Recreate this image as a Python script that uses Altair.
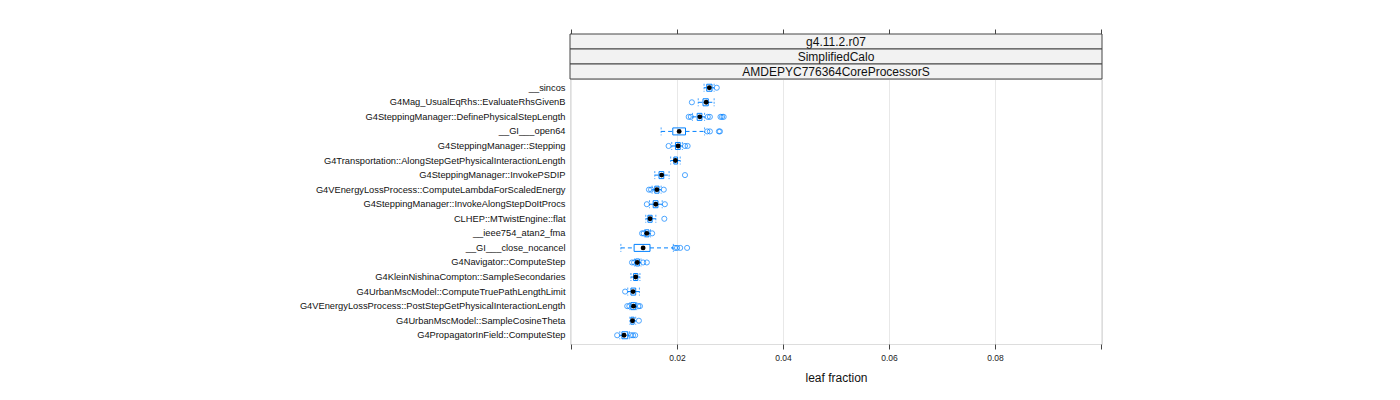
import altair as alt
import pandas as pd

funcs = [
    "__sincos",
    "G4Mag_UsualEqRhs::EvaluateRhsGivenB",
    "G4SteppingManager::DefinePhysicalStepLength",
    "__GI___open64",
    "G4SteppingManager::Stepping",
    "G4Transportation::AlongStepGetPhysicalInteractionLength",
    "G4SteppingManager::InvokePSDIP",
    "G4VEnergyLossProcess::ComputeLambdaForScaledEnergy",
    "G4SteppingManager::InvokeAlongStepDoItProcs",
    "CLHEP::MTwistEngine::flat",
    "__ieee754_atan2_fma",
    "__GI___close_nocancel",
    "G4Navigator::ComputeStep",
    "G4KleinNishinaCompton::SampleSecondaries",
    "G4UrbanMscModel::ComputeTruePathLengthLimit",
    "G4VEnergyLossProcess::PostStepGetPhysicalInteractionLength",
    "G4UrbanMscModel::SampleCosineTheta",
    "G4PropagatorInField::ComputeStep",
]
whisker_low = [0.0251, 0.0240, 0.0229, 0.0170, 0.0190, 0.0188, 0.0158, 0.0153, 0.0148,
               0.0141, 0.0139, 0.0094, 0.0120, 0.0113, 0.0107, 0.0111, 0.0111, 0.0092]
q1 = [0.0256, 0.0249, 0.0238, 0.0192, 0.0197, 0.0194, 0.0166, 0.0158, 0.0155,
      0.0145, 0.0140, 0.0119, 0.0122, 0.0118, 0.0113, 0.0113, 0.0113, 0.0096]
median = [0.0261, 0.0255, 0.0243, 0.0204, 0.0202, 0.0197, 0.0171, 0.0162, 0.0160,
          0.0149, 0.0143, 0.0136, 0.0125, 0.0122, 0.0117, 0.0118, 0.0116, 0.0100]
q3 = [0.0266, 0.0259, 0.0247, 0.0216, 0.0206, 0.0201, 0.0175, 0.0166, 0.0164,
      0.0153, 0.0147, 0.0149, 0.0129, 0.0126, 0.0122, 0.0122, 0.0119, 0.0107]
whisker_high = [0.0270, 0.0270, 0.0252, 0.0252, 0.0210, 0.0206, 0.0185, 0.0170, 0.0172,
                0.0160, 0.0150, 0.0193, 0.0132, 0.0130, 0.0129, 0.0124, 0.0122, 0.0110]
outliers = [
    [0.0275],
    [0.0228],
    [0.0222, 0.0226, 0.0258, 0.0262, 0.0282, 0.0285, 0.0288],
    [0.0257, 0.0262, 0.0279, 0.0281],
    [0.0184, 0.0215, 0.0220],
    [],
    [0.0215],
    [0.0147, 0.0151, 0.0175],
    [0.0143, 0.0177],
    [0.0176],
    [0.0134, 0.0137, 0.0153],
    [0.0196, 0.0200, 0.0206, 0.0219],
    [0.0115, 0.0119, 0.0136, 0.0143],
    [],
    [0.0102],
    [0.0106, 0.0110, 0.0127, 0.0130],
    [0.0128],
    [0.0087, 0.0113, 0.0117, 0.0121],
]
strip_labels = ["g4.11.2.r07", "SimplifiedCalo", "AMDEPYC776364CoreProcessorS"]
tick_values = [0.0, 0.02, 0.04, 0.06, 0.08, 0.1]

stats = pd.DataFrame({"func": funcs, "wlo": whisker_low, "q1": q1, "med": median,
                      "q3": q3, "whi": whisker_high})
out_df = pd.DataFrame([{"func": f, "v": v} for f, vs in zip(funcs, outliers) for v in vs])
ends_df = pd.DataFrame({"func": funcs * 2, "v": whisker_low + whisker_high})

BLUE = "#0080ff"
W, H = 532, 265
FONT = "Liberation Sans"

xscale = alt.Scale(domain=[-0.0002, 0.1002], nice=False, zero=False)
yscale = alt.Scale(domain=funcs, paddingInner=0, paddingOuter=0.1)

bottom_axis = alt.Axis(values=tick_values, format=".2f",
                       labelExpr="datum.value < 0.01 || datum.value > 0.09 ? '' : datum.label",
                       grid=True, gridColor="#e8e8e8", domain=False,
                       tickColor="#444", tickSize=5, labelFontSize=8.5,
                       labelColor="#222", labelPadding=4, titleFontSize=12,
                       titleFontWeight="normal", titleColor="#111", titlePadding=11,
                       labelFont=FONT, titleFont=FONT)
y_enc = alt.Y("func:N", scale=yscale, sort=funcs, title=None,
              axis=alt.Axis(ticks=False, domain=False, labelFontSize=9.3, labelColor="#111",
                            labelPadding=5, labelFont=FONT, labelLimit=0))

base = alt.Chart(stats)

whisk_lo = base.mark_rule(color=BLUE, strokeDash=[4, 3], strokeWidth=1).encode(
    x=alt.X("wlo:Q", scale=xscale, title="leaf fraction", axis=bottom_axis),
    x2="q1:Q", y=y_enc)
whisk_hi = base.mark_rule(color=BLUE, strokeDash=[4, 3], strokeWidth=1).encode(
    x=alt.X("q3:Q", scale=xscale, axis=None), x2="whi:Q", y=y_enc)
ends = alt.Chart(ends_df).mark_point(shape="M0,-1L0,1", size=64, color=BLUE,
                                     strokeDash=[2, 1.5], strokeWidth=1, filled=False).encode(
    x=alt.X("v:Q", scale=xscale, axis=None), y=y_enc)
box = base.mark_bar(size=7, fill="white", fillOpacity=0, stroke=BLUE, strokeWidth=1).encode(
    x=alt.X("q1:Q", scale=xscale, axis=None), x2="q3:Q", y=y_enc)
pts = alt.Chart(out_df).mark_point(shape="circle", size=26, color=BLUE, filled=False,
                                   strokeWidth=1).encode(
    x=alt.X("v:Q", scale=xscale, axis=None), y=y_enc)
med = base.mark_point(shape="circle", size=24, color="black", filled=True, opacity=1).encode(
    x=alt.X("med:Q", scale=xscale, axis=None), y=y_enc)

# top axis (ticks only, above strips)
top_axis = alt.Chart(pd.DataFrame({"v": tick_values})).mark_point(opacity=0).encode(
    x=alt.X("v:Q", scale=xscale,
            axis=alt.Axis(orient="top", values=tick_values, labels=False, title=None,
                          grid=False, domain=False, tickColor="#444", tickSize=5, offset=45)))

strip_layers = []
for i, lab in enumerate(strip_labels):
    top = -45 + 15 * i
    d = pd.DataFrame({"t": [lab]})
    strip_layers.append(alt.Chart(d).mark_rect(fill="#f2f2f2", stroke="#444", strokeWidth=1).encode(
        x=alt.value(0), x2=alt.value(W), y=alt.value(top), y2=alt.value(top + 15)))
    strip_layers.append(alt.Chart(d).mark_text(fontSize=12, font=FONT,
                                               color="#111", baseline="middle").encode(
        text="t:N", x=alt.value(W / 2), y=alt.value(top + 7.5)))

chart = alt.layer(
    whisk_lo, whisk_hi, ends, box, pts, med, top_axis, *strip_layers
).resolve_axis(x="independent").properties(
    width=W, height=H,
    autosize=alt.AutoSizeParams(type="none"),
    padding={"left": 562, "top": 71, "right": 290, "bottom": 48},
).configure_view(stroke="#444", strokeWidth=1).configure(background="white")

chart.save("out.html", embed_options={"renderer": "svg", "actions": False})
